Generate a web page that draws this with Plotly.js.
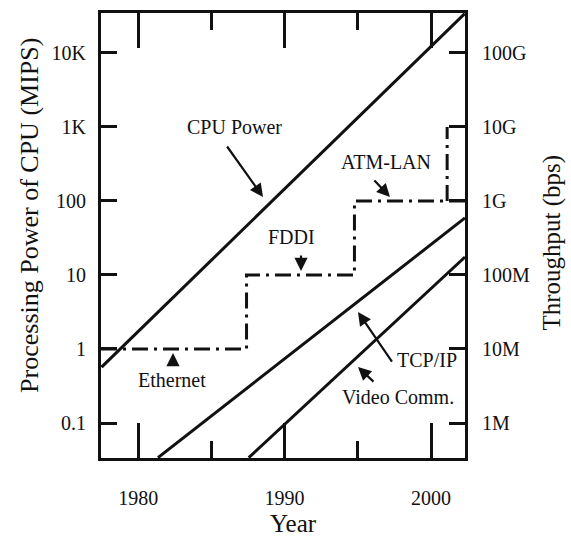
<!DOCTYPE html>
<html>
<head>
<meta charset="utf-8">
<script src="https://cdn.plot.ly/plotly-3.0.1.min.js"></script>
<style>html,body{margin:0;padding:0;background:#fff;}#chart{width:571px;height:539px;}</style>
</head>
<body>
<div id="chart"></div>
<script>
// ---- data ----
const cpuYears = [1977.5, 2002.3];
const cpuMips = [0.57, 34000];

const tcpYears = [1981.35, 2002.32];
const tcpBps = [3.4e5, 5.9e8];

const videoYears = [1987.55, 2002.32];
const videoBps = [3.4e5, 1.75e8];

const lanYears = [1977.46, 1987.4, 1987.4, 1994.77, 1994.77, 2002.32];
const lanBps = [1e7, 1e7, 1e8, 1e8, 1e9, 1e9];

const atmYears = [2001.1, 2001.1];
const atmBps = [1e9, 1e10];

const yearTicks = [1980, 1990, 2000];
const yearMinorTicks = [1985, 1995];
const mipsTickVals = [0.1, 1, 10, 100, 1000, 10000];
const mipsTickText = ['0.1', '1', '10', '100', '1K', '10K'];
const bpsTickVals = [1e6, 1e7, 1e8, 1e9, 1e10, 1e11];
const bpsTickText = ['1M', '10M', '100M', '1G', '10G', '100G'];

// ---- chart ----
const ink = '#111';
const FONT = '"Liberation Serif", "DejaVu Serif", serif';
const dashDot = '16px,6px,3px,6px';

const traces = [
  {x: cpuYears, y: cpuMips, yaxis: 'y', mode: 'lines', line: {color: ink, width: 3}, name: 'CPU Power'},
  {x: tcpYears, y: tcpBps, yaxis: 'y2', mode: 'lines', line: {color: ink, width: 3}, name: 'TCP/IP'},
  {x: videoYears, y: videoBps, yaxis: 'y2', mode: 'lines', line: {color: ink, width: 3}, name: 'Video Comm.'},
  {x: lanYears, y: lanBps, yaxis: 'y2', mode: 'lines', line: {color: ink, width: 3, dash: dashDot}, name: 'LAN'},
  {x: atmYears, y: atmBps, yaxis: 'y2', mode: 'lines', line: {color: ink, width: 3, dash: dashDot}, name: 'ATM-LAN'}
];

function arrow(x, y, ax, ay) {
  return {xref: 'paper', yref: 'paper', x: x, y: y, ax: ax, ay: ay, text: '',
    showarrow: true, arrowhead: 2, arrowsize: 1.2, arrowwidth: 2.2, arrowcolor: ink, standoff: 0, startstandoff: 0};
}
function label(x, y, text, size, angle) {
  return {xref: 'paper', yref: 'paper', x: x, y: y, text: text, showarrow: false,
    xanchor: 'center', yanchor: 'middle', textangle: angle || 0,
    font: {family: FONT, size: size || 20, color: ink}};
}

const layout = {
  width: 571, height: 539,
  margin: {l: 101, r: 106, t: 13, b: 81},
  paper_bgcolor: '#fff', plot_bgcolor: '#fff',
  showlegend: false,
  font: {family: FONT, color: ink, size: 20},
  xaxis: {
    range: [1977.46, 2002.32],
    tickmode: 'array', tickvals: yearTicks,
    ticks: 'inside', ticklen: 35, tickwidth: 3, tickcolor: ink,
    minor: {tickmode: 'array', tickvals: yearMinorTicks, ticks: 'inside', ticklen: 17, tickwidth: 3, tickcolor: ink, showgrid: false},
    showline: true, linewidth: 3, linecolor: ink, mirror: 'ticks',
    showgrid: false, zeroline: false,
    tickfont: {family: FONT, size: 20, color: ink},
    ticklabelstandoff: 20
  },
  yaxis: {
    type: 'log', range: [-1.473, 4.54],
    tickmode: 'array', tickvals: mipsTickVals, ticktext: mipsTickText,
    ticks: 'inside', ticklen: 16, tickwidth: 3, tickcolor: ink,
    showline: true, linewidth: 3, linecolor: ink,
    showgrid: false, zeroline: false,
    tickfont: {family: FONT, size: 20, color: ink},
    ticklabelstandoff: 8
  },
  yaxis2: {
    type: 'log', range: [5.527, 11.54], overlaying: 'y', side: 'right',
    tickmode: 'array', tickvals: bpsTickVals, ticktext: bpsTickText,
    ticks: 'inside', ticklen: 16, tickwidth: 3, tickcolor: ink,
    showline: true, linewidth: 3, linecolor: ink,
    showgrid: false, zeroline: false,
    tickfont: {family: FONT, size: 20, color: ink},
    ticklabelstandoff: 10
  },
  annotations: [
    label(-0.195, 0.544, 'Processing Power of CPU (MIPS)', 26, -90),
    label(1.24, 0.485, 'Throughput (bps)', 25, -90),
    label(0.530, -0.148, 'Year', 25),
    label(0.3681, 0.7438, 'CPU Power'),
    arrow(0.4451, 0.5865, -37, -52),
    label(0.783, 0.6652, 'ATM-LAN'),
    arrow(0.794, 0.5865, -17, -18),
    label(0.522, 0.4966, 'FDDI'),
    arrow(0.5495, 0.4202, 0, -17),
    label(0.195, 0.1753, 'Ethernet'),
    arrow(0.1978, 0.236, 0, 14),
    label(0.8956, 0.2202, 'TCP/IP'),
    arrow(0.706, 0.328, 35, 51),
    label(0.816, 0.137, 'Video Comm.'),
    arrow(0.706, 0.2045, 17, 16)
  ]
};

Plotly.newPlot('chart', traces, layout, {staticPlot: true, displayModeBar: false});
</script>
</body>
</html>
